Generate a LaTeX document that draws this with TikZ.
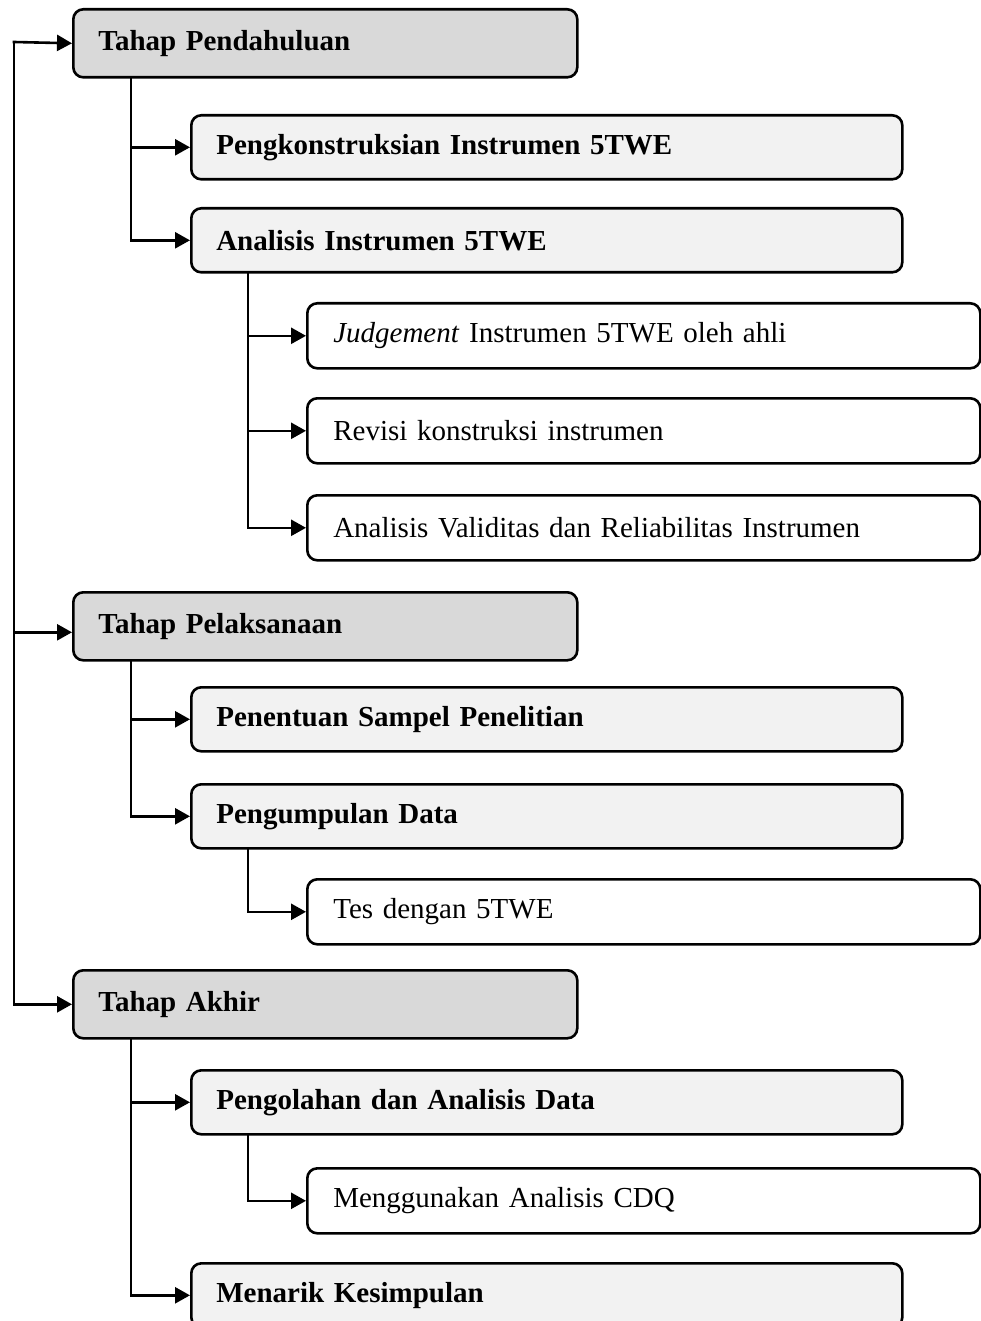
\documentclass[tikz,border=0pt]{standalone}
\usepackage{fontspec}
\setmainfont{Liberation Serif}
\usepackage{tikz}
\usetikzlibrary{arrows.meta}
\definecolor{phasefill}{HTML}{D9D9D9}
\definecolor{taskfill}{HTML}{F2F2F2}
\tikzset{
    box/.style={draw, line width=2.6pt, rounded corners=10pt, anchor=north west, align=left, inner ysep=0pt},
    phase/.style={box, fill=phasefill, minimum height=68pt, inner xsep=25pt, text width=454pt, font=\fontsize{29pt}{34pt}\selectfont\bfseries},
    task/.style={box, fill=taskfill, minimum height=64pt, inner xsep=25pt, text width=661pt, font=\fontsize{29pt}{34pt}\selectfont\bfseries},
    subtask/.style={box, fill=white, minimum height=65pt, inner xsep=26pt, text width=621pt, font=\fontsize{29pt}{34pt}\selectfont},
    link/.style={line width=2.6pt, line cap=rect, -{Triangle[length=15pt, width=16pt]}}
}

\begin{document}
\begin{tikzpicture}[x=1pt, y=-1pt]
    \useasboundingbox (0,0) rectangle (981,1321);

    \node [phase] (pend) at (72,8) {Tahap Pendahuluan};
    \node [task] (kons) at (190,114) {Pengkonstruksian Instrumen 5TWE};
    \node [task] (anal) at (190,207) {Analisis Instrumen 5TWE};
    \node [subtask] (judg) at (306,302) {\textit{Judgement} Instrumen 5TWE oleh ahli};
    \node [subtask] (rev) at (306,397) {Revisi konstruksi instrumen};
    \node [subtask] (valid) at (306,494) {Analisis Validitas dan Reliabilitas Instrumen};

    \node [phase] (pel) at (72,591) {Tahap Pelaksanaan};
    \node [task] (sampel) at (190,686) {Penentuan Sampel Penelitian};
    \node [task] (kumpul) at (190,783) {Pengumpulan Data};
    \node [subtask] (tes) at (306,878) {Tes dengan 5TWE};

    \node [phase] (akhir) at (72,969) {Tahap Akhir};
    \node [task] (olah) at (190,1069) {Pengolahan dan Analisis Data};
    \node [subtask] (cdq) at (306,1167) {Menggunakan Analisis CDQ};
    \node [task] (simpul) at (190,1262) {Menarik Kesimpulan};

    % main line
    \coordinate (start) at (14,42);
    \draw [link] (start) -- (pend.west);
    \draw [link] (start) |- ([yshift=-6pt]pel.west);
    \draw [link] (start) |- (akhir.west);

    % branches
    \draw [link] ([xshift=59pt]pend.south west) |- (kons.west);
    \draw [link] ([xshift=59pt]pend.south west) |- (anal.west);
    \draw [link] ([xshift=58pt]anal.south west) |- (judg.west);
    \draw [link] ([xshift=58pt]anal.south west) |- (rev.west);
    \draw [link] ([xshift=58pt]anal.south west) |- (valid.west);

    \draw [link] ([xshift=59pt]pel.south west) |- (sampel.west);
    \draw [link] ([xshift=59pt]pel.south west) |- (kumpul.west);
    \draw [link] ([xshift=58pt]kumpul.south west) |- (tes.west);

    \draw [link] ([xshift=59pt]akhir.south west) |- (olah.west);
    \draw [link] ([xshift=59pt]akhir.south west) |- (simpul.west);
    \draw [link] ([xshift=58pt]olah.south west) |- (cdq.west);
\end{tikzpicture}
\end{document}
